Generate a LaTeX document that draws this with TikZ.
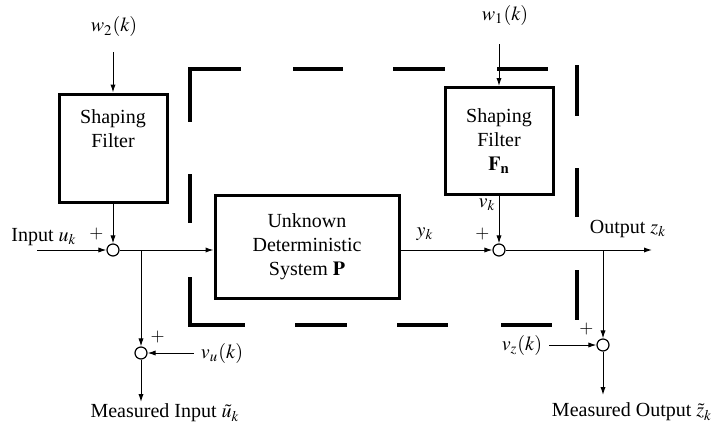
\documentclass[tikz,border=0pt]{standalone}
\usepackage{mathptmx}
\usepackage{fontspec}
\setmainfont{Liberation Serif}
\usepackage{tikz}
\usetikzlibrary{arrows.meta, positioning, calc}

\begin{document}
\begin{tikzpicture}[x=0.5pt, y=-0.5pt,
  >={Latex[length=4pt,width=2.6pt]},
  block/.style={draw, line width=1.5pt, align=center, inner sep=0pt},
  sumnode/.style={draw, circle, line width=0.6pt, minimum size=6pt, inner sep=0pt},
  sig/.style={->, line width=0.5pt},
  plus/.style={font=\small, label distance=-1.5pt},
  frame/.style={line width=2pt}]
  \useasboundingbox (0,0) rectangle (712,423);
  % blocks
  \node[block, minimum width=54pt, minimum height=54pt] (filt2) at (113,148) {Shaping\\Filter\\[4pt]\strut};
  \node[block, minimum width=54pt, minimum height=53.5pt] (filtn) at (499,141) {Shaping\\Filter\\$\mathbf{F}_{\mathbf{n}}$};
  \node[block, minimum width=92pt, minimum height=51.5pt] (plant) at (307,246.5) {Unknown\\Deterministic\\System $\mathbf{P}$};
  % summing junctions
  \node[sumnode, label={[plus]135:$+$}] (sum1) at (113,250) {};
  \node[sumnode, label={[plus]45:$+$}] (sum2) at (141,353) {};
  \node[sumnode, label={[plus]135:$+$}] (sum3) at (499,250) {};
  \node[sumnode, label={[plus]135:$+$}] (sum4) at (603,345) {};
  % signal labels
  \node (w2) at (114,27) {$w_2(k)$};
  \node (w1) at (505,15) {$w_1(k)$};
  \node (lblin) at (44,237) {Input $u_k$};
  \node (lblvu) at (222,353) {$v_u(k)$};
  \node (lblmin) at (165,413) {Measured Input $\tilde{u}_k$};
  \node (lbly) at (425,234) {$y_k$};
  \node (lblvk) at (487,205) {$v_k$};
  \node (lblout) at (628,229) {Output $z_k$};
  \node (lblvz) at (522,345) {$v_z(k)$};
  \node (lblmout) at (632,412) {Measured Output $\tilde{z}_k$};
  \coordinate (uin) at (37,250);
  \coordinate (br1) at (sum2 |- sum1);
  \coordinate (umeas) at (141,402);
  \coordinate (zout) at (652,250);
  \coordinate (br2) at (sum4 |- sum3);
  \coordinate (zmeas) at (603,395);
  % connectors
  \draw[sig, shorten <=4pt] (w2.south -| filt2.north) -- (filt2.north);
  \draw[sig] (filt2) -- (sum1);
  \draw[sig] (uin) -- (sum1);
  \draw[sig] (sum1) -- (sum1 -| plant.west);
  \draw[sig] (br1) -- (sum2);
  \draw[sig] (lblvu) -- (sum2);
  \draw[sig] (sum2) -- (umeas);
  \draw[sig, shorten <=6pt] (w1.south -| filtn.north) -- (filtn.north);
  \draw[sig] (filtn) -- (sum3);
  \draw[sig] (plant.east |- sum3) -- (sum3);
  \draw[sig] (sum3) -- (zout);
  \draw[sig] (br2) -- (sum4);
  \draw[sig] (lblvz) -- (sum4);
  \draw[sig] (sum4) -- (zmeas);
  % dashed frame round the unknown part
  \draw[frame] (241,69) -- (190,69) -- (190,122);
  \draw[frame] (190,174) -- (190,223);
  \draw[frame] (190,277) -- (190,325) -- (245,325);
  \foreach \xa/\xb in {293/343, 393/445, 497/548} \draw[frame] (\xa,69) -- (\xb,69);
  \foreach \xa/\xb in {295/347, 397/448, 501/552} \draw[frame] (\xa,325) -- (\xb,325);
  \foreach \ya/\yb in {65/116, 168/217, 270/320} \draw[frame] (577,\ya) -- (577,\yb);
\end{tikzpicture}
\end{document}
